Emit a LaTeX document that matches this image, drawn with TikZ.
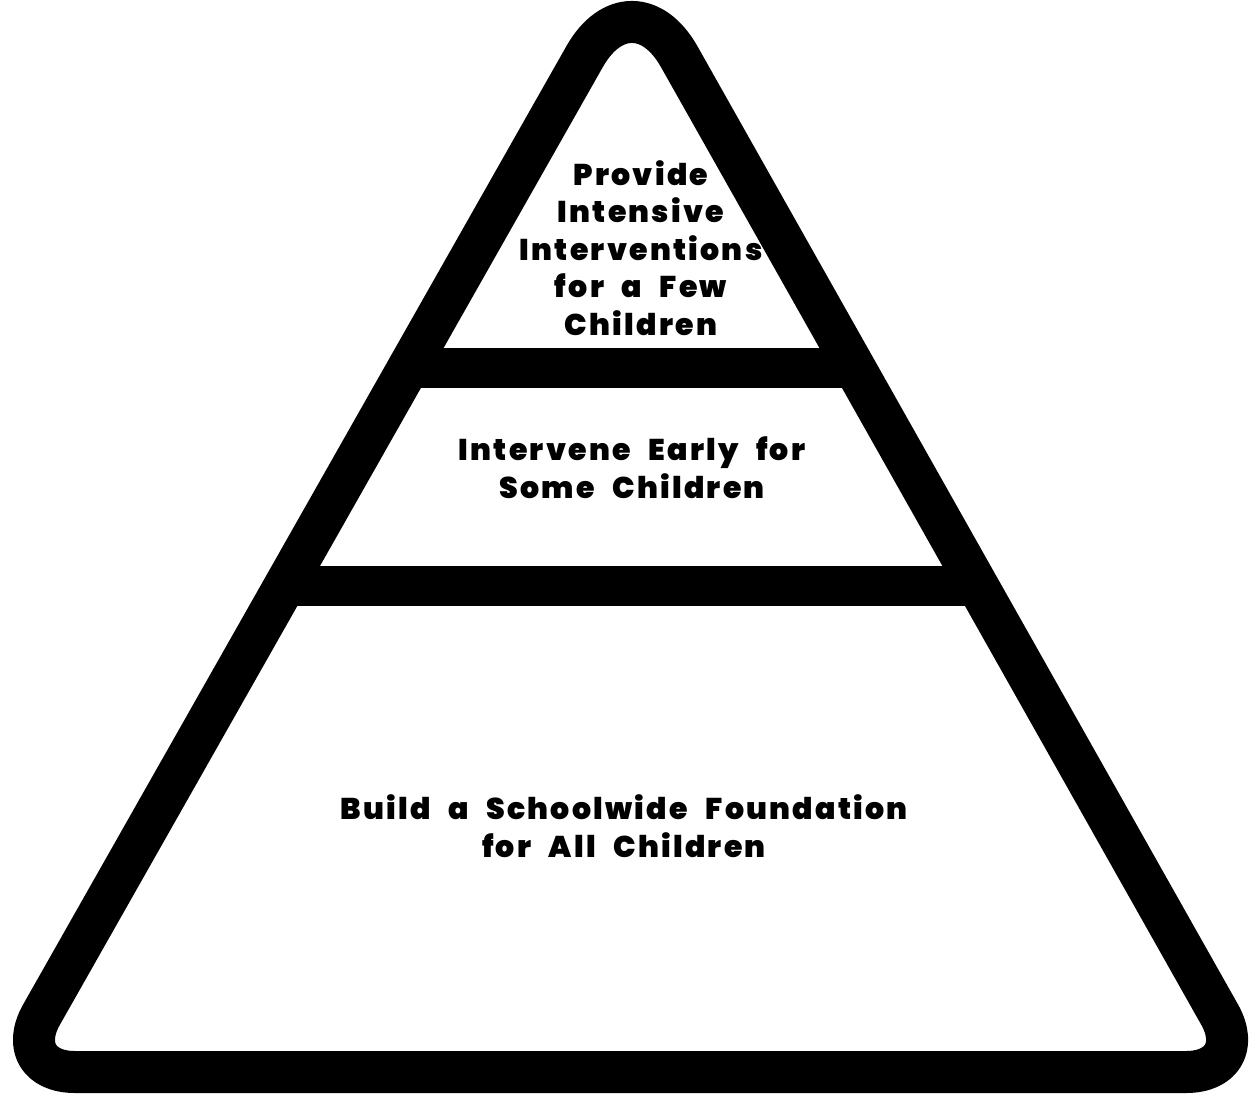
\documentclass[tikz,border=0pt]{standalone}
\usepackage{fontspec}
\newfontfamily\pf{Poppins Black}[LetterSpace=7.5,WordSpace=2.4]
\begin{document}
\begin{tikzpicture}[x=1pt,y=-1pt,
  outline/.style={line width=42pt,black,line join=round},
  bar/.style={line width=40pt,black},
  label/.style={font=\pf\fontsize{30}{37.5}\selectfont,align=center,inner sep=0pt,anchor=base}]
\useasboundingbox (0,0) rectangle (1251,1095);
\fill[white] (0,0) rectangle (1251,1095);
% geometry (centre line of the thick outline)
\coordinate (apex) at (632,-27);
\coordinate (bl) at (9,1072);
\coordinate (br) at (1252,1072);
\coordinate (bm) at (632,1072);
\coordinate (b1l) at (408,368);
\coordinate (b1r) at (856,368);
\coordinate (b2l) at (284,586);
\coordinate (b2r) at (980,586);
\draw[bar] (b1l) -- (b1r);
\draw[bar] (b2l) -- (b2r);
% the radius in force when "-- (X)" is read rounds the corner at X
\draw[outline] (bm) [rounded corners=66pt] -- (br) [rounded corners=96pt] -- (apex) [rounded corners=66pt] -- (bl) -- cycle;
% labels
\node[label] (top) at (641,335) {Provide\\Intensive\\Interventions\\for a Few\\Children};
\node[label] (mid) at (632,498) {Intervene Early for\\Some Children};
\node[label] (bot) at (624,857) {Build a Schoolwide Foundation\\for All Children};
\end{tikzpicture}
\end{document}
